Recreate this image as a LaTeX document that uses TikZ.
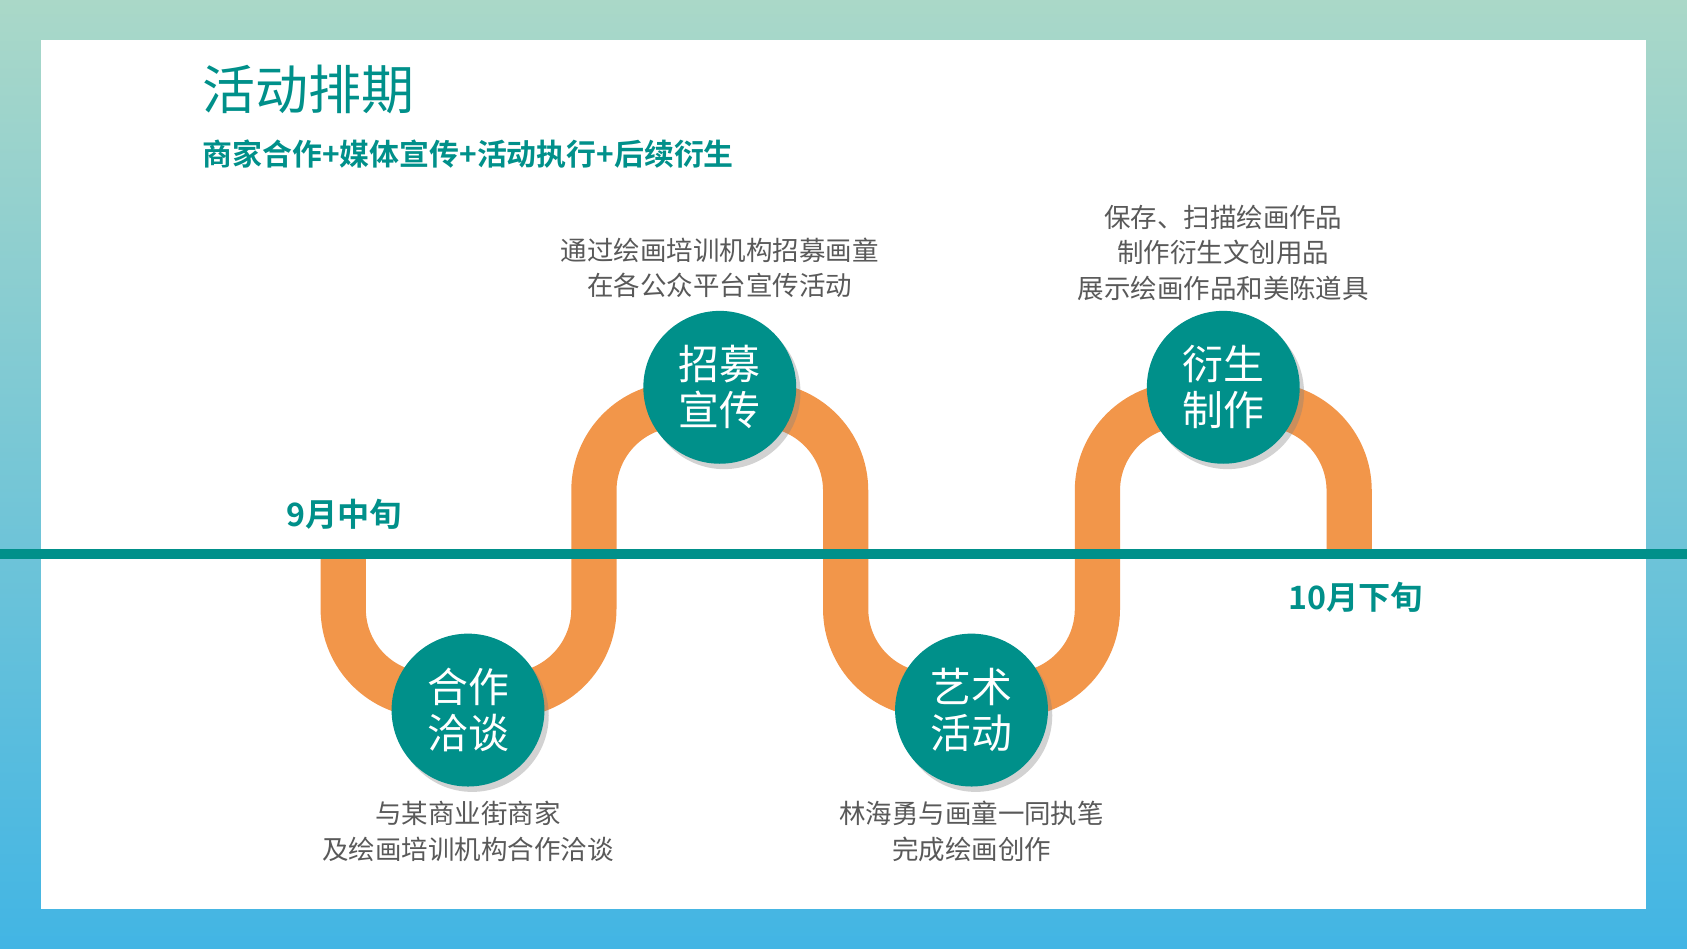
\documentclass[tikz,border=0pt]{standalone}
\usepackage{fontspec}
\newfontfamily\cjk{Noto Sans CJK SC}
\newfontfamily\cjkb{Noto Sans CJK SC Bold}
\usetikzlibrary{shadows}
\definecolor{teal1}{HTML}{00908A}
\definecolor{org}{HTML}{F2964A}
\definecolor{gtxt}{HTML}{595959}
\tikzset{
  stage/.style={circle,fill=teal1,minimum size=1.42cm,inner sep=0pt,text=white,align=center,
    font={\cjk\fontsize{10.8}{12.2}\selectfont},drop shadow={opacity=0.35,shadow xshift=0.04cm,shadow yshift=-0.05cm}},
  desc/.style={text=gtxt,align=center,font={\cjk\fontsize{7}{9.4}\selectfont}},
  month/.style={text=teal1,font={\cjkb\fontsize{8.5}{10}\selectfont}}
}
\begin{document}
\begin{tikzpicture}[x=0.01cm,y=-0.01cm]
\useasboundingbox (0,0) rectangle (1568,882);
\shade[top color={rgb,255:red,170;green,216;blue,200},bottom color={rgb,255:red,66;green,181;blue,228}] (0,0) rectangle (1568,882);
\fill[white] (38,37) rectangle (1530,845);
\node[anchor=west,text=teal1,font={\cjk\fontsize{14}{16}\selectfont}] (title) at (176,83) {活动排期};
\node[anchor=west,text=teal1,font={\cjkb\fontsize{7.9}{9}\selectfont}] (sub) at (176,143) {商家合作+媒体宣传+活动执行+后续衍生};
\draw[org,line width=0.42cm,rounded corners=0.8cm] (319,515)--(319,646)--(552,646)--(552,376)--(786,376)--(786,646)--(1020,646)--(1020,376)--(1254,376)--(1254,515);
\draw[teal1,line width=0.09cm] (0,515)--(1568,515);
\node[stage] (c1) at (435,660) {合作\\洽谈};
\node[stage] (c2) at (669,360) {招募\\宣传};
\node[stage] (c3) at (903,660) {艺术\\活动};
\node[stage] (c4) at (1137,360) {衍生\\制作};
\node[desc] (d1) at (435,773) {与某商业街商家\\及绘画培训机构合作洽谈};
\node[desc] (d2) at (669,249) {通过绘画培训机构招募画童\\在各公众平台宣传活动};
\node[desc] (d3) at (903,773) {林海勇与画童一同执笔\\完成绘画创作};
\node[desc] (d4) at (1137,235) {保存、扫描绘画作品\\制作衍生文创用品\\展示绘画作品和美陈道具};
\node[month] (m1) at (320,478) {9月中旬};
\node[month] (m2) at (1260,555) {10月下旬};
\end{tikzpicture}
\end{document}
